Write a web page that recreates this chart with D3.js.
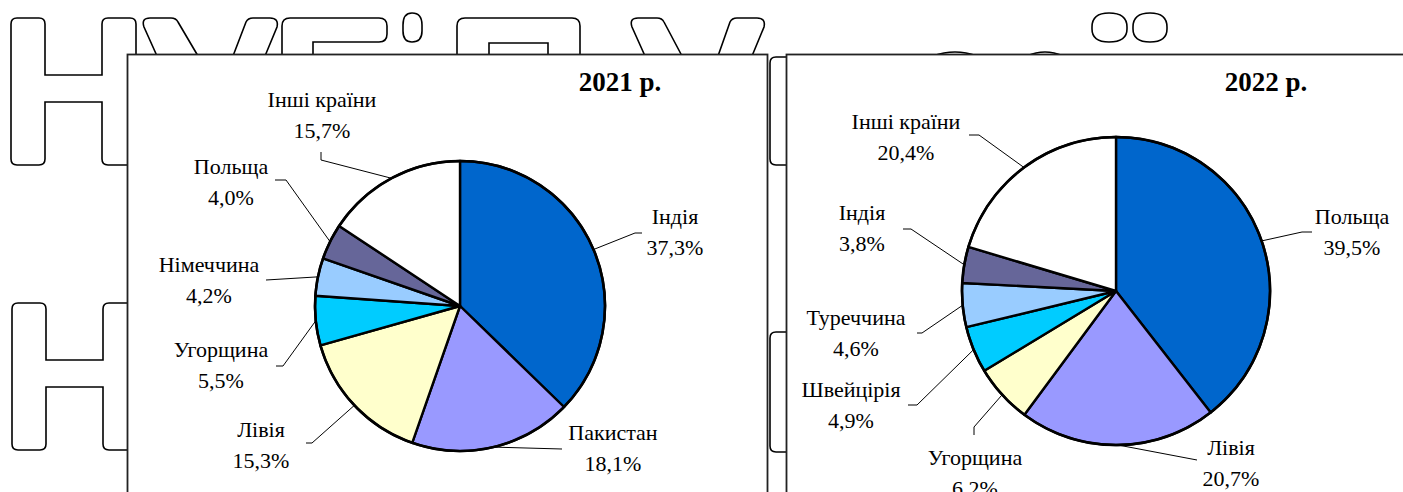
<!DOCTYPE html>
<html>
<head>
<meta charset="utf-8">
<script src="https://cdn.jsdelivr.net/npm/d3@7"></script>
<style>
  body { margin: 0; background: #fff; }
</style>
</head>
<body>
<svg id="chart"></svg>
<script>
// data
const countries2021 = ['Індія', 'Пакистан', 'Лівія', 'Угорщина', 'Німеччина', 'Польща', 'Інші країни']
const shares2021 = [37.3, 18.1, 15.3, 5.5, 4.2, 4.0, 15.7]
const countries2022 = ['Польща', 'Лівія', 'Угорщина', 'Швейцірія', 'Туреччина', 'Індія', 'Інші країни']
const shares2022 = [39.5, 20.7, 6.2, 4.9, 4.6, 3.8, 20.4]
const years = ['2021 р.', '2022 р.']
const sliceColors = ['#0066CC', '#9999FF', '#FFFFCC', '#00CCFF', '#99CCFF', '#666699', '#FFFFFF']

// label layout (centre of first line, leader points from label towards pie)
const layout2021 = [
  { x: 675, y: 217, leader: [[642, 233], [635, 233]] },
  { x: 613, y: 433, leader: [[562, 449]] },
  { x: 261, y: 430, leader: [[306, 443], [312, 443]] },
  { x: 221, y: 350, leader: [[276, 366], [283, 366]] },
  { x: 209, y: 265, leader: [[266, 280]] },
  { x: 231, y: 167, leader: [[275, 180], [286, 180]] },
  { x: 322, y: 100, leader: [[321, 152], [321, 160]] }
]
const layout2022 = [
  { x: 1352, y: 217, leader: [[1312, 232], [1302, 232]] },
  { x: 1231, y: 448, leader: [[1197, 460]] },
  { x: 975, y: 458, leader: [[974, 435], [974, 427]] },
  { x: 851, y: 390, leader: [[908, 405], [917, 405]] },
  { x: 856, y: 318, leader: [[917, 333], [922, 333]] },
  { x: 862, y: 213, leader: [[903, 229], [911, 229]] },
  { x: 906, y: 122, leader: [[969, 135], [979, 135]] }
]

const w = 1403
const h = 492
const serif = "'Liberation Serif', 'Times New Roman', Tinos, 'DejaVu Serif', serif"

const svg = d3.select('#chart')
  .attr('width', w)
  .attr('height', h)
  .attr('font-family', serif)

svg.append('rect').attr('width', w).attr('height', h).attr('fill', '#fff')

/* background outline lettering */
const deco = svg.append('g')
  .attr('fill', 'none')
  .attr('stroke', '#000')
  .attr('stroke-width', 1.6)

const hLetter = 'M11,24q0,-6 6,-6H39q6,0 6,6V75H102V24q0,-6 6,-6H130q6,0 6,6V159q0,6 -6,6H108q-6,0 -6,-6V102H45V159q0,6 -6,6H17q-6,0 -6,-6Z'
deco.append('path').attr('d', hLetter)
deco.append('path').attr('d', hLetter).attr('transform', 'translate(1,285)')

const decoPaths = [
  // У
  'M157,56L144,27q-3,-9 6,-9H171q5,0 7,4L198,56',
  'M233,56L246,22q2,-4 7,-4H270q9,0 7,9L265,56',
  // Б top
  'M282,56V26q0,-8 8,-8H379q8,0 8,8V34q0,8 -8,8H313V56',
  // small ring
  'M403,25q0,-12 9,-12q10,0 10,12V31q0,11 -10,11q-9,0 -9,-11Z',
  // Р top
  'M457,56V26q0,-8 8,-8H572q8,0 8,8V56',
  'M489,56V43H548V56',
  // V
  'M645,56L632,27q-3,-9 6,-9H657q5,0 7,4L682,56',
  'M718,56L730,22q2,-4 7,-4H757q9,0 7,9L752,56',
  // two rings
  'M1092,27q0,-14 17,-14q18,0 18,14V29q0,13 -18,13q-17,0 -17,-13Z',
  'M1133,27q0,-14 17,-14q17,0 17,14V29q0,13 -17,13q-17,0 -17,-13Z',
  // tops peeking over the panel
  'M933,56q22,-8 44,0',
  'M1027,56q18,-8 36,0',
  // strip between panels
  'M787,57H776q-6,0 -6,6V159q0,6 6,6H787',
  'M787,332H776q-6,0 -6,6V446q0,6 6,6H787'
]
deco.selectAll('path.d')
  .data(decoPaths)
  .enter()
  .append('path')
  .attr('class', 'd')
  .attr('d', d => d)

/* panels */
const panels = [
  { x: 127.5, y: 54.5, width: 640, cx: 460, cy: 306, r: 145, titleX: 620,
    countries: countries2021, shares: shares2021, layout: layout2021 },
  { x: 786.5, y: 54.5, width: 700, cx: 1116, cy: 291, r: 154, titleX: 1266,
    countries: countries2022, shares: shares2022, layout: layout2022 }
]

const pie = d3.pie().sort(null).value(d => d.share)

panels.forEach((p, i) => {
  const g = svg.append('g')

  g.append('rect')
    .attr('x', p.x)
    .attr('y', p.y)
    .attr('width', p.width)
    .attr('height', 600)
    .attr('fill', '#fff')
    .attr('stroke', '#222')
    .attr('stroke-width', 1.8)

  g.append('text')
    .attr('x', p.titleX)
    .attr('y', 91)
    .attr('text-anchor', 'middle')
    .attr('font-family', serif)
    .attr('font-size', 27)
    .attr('font-weight', 'bold')
    .attr('fill', '#000')
    .text(years[i])

  const rows = p.countries.map((c, k) => ({ country: c, share: p.shares[k], pos: p.layout[k], color: sliceColors[k] }))
  const arcs = pie(rows)

  const arc = d3.arc().innerRadius(0).outerRadius(p.r)
  const edge = d3.arc().innerRadius(p.r).outerRadius(p.r)

  const pieG = g.append('g').attr('transform', `translate(${p.cx},${p.cy})`)

  pieG.selectAll('path')
    .data(arcs)
    .enter()
    .append('path')
    .attr('d', arc)
    .attr('fill', d => d.data.color)
    .attr('stroke', '#000')
    .attr('stroke-width', 2.4)
    .attr('stroke-linejoin', 'round')

  pieG.append('circle')
    .attr('r', p.r)
    .attr('fill', 'none')
    .attr('stroke', '#000')
    .attr('stroke-width', 2.6)

  // leaders
  const line = d3.line()
  g.selectAll('path.leader')
    .data(arcs)
    .enter()
    .append('path')
    .attr('class', 'leader')
    .attr('fill', 'none')
    .attr('stroke', '#000')
    .attr('stroke-width', 1)
    .attr('d', d => {
      const c = edge.centroid(d)
      const pts = d.data.pos.leader.concat([[p.cx + c[0], p.cy + c[1]]])
      return line(pts)
    })

  // labels
  const lab = g.selectAll('text.lab')
    .data(arcs)
    .enter()
    .append('text')
    .attr('class', 'lab')
    .attr('text-anchor', 'middle')
    .attr('font-family', serif)
    .attr('font-size', 22)
    .attr('fill', '#000')

  lab.append('tspan')
    .attr('x', d => d.data.pos.x)
    .attr('y', d => d.data.pos.y + 7)
    .text(d => d.data.country)

  lab.append('tspan')
    .attr('x', d => d.data.pos.x)
    .attr('y', d => d.data.pos.y + 38)
    .text(d => d3.format('.1f')(d.data.share).replace('.', ',') + '%')
})
</script>
</body>
</html>
